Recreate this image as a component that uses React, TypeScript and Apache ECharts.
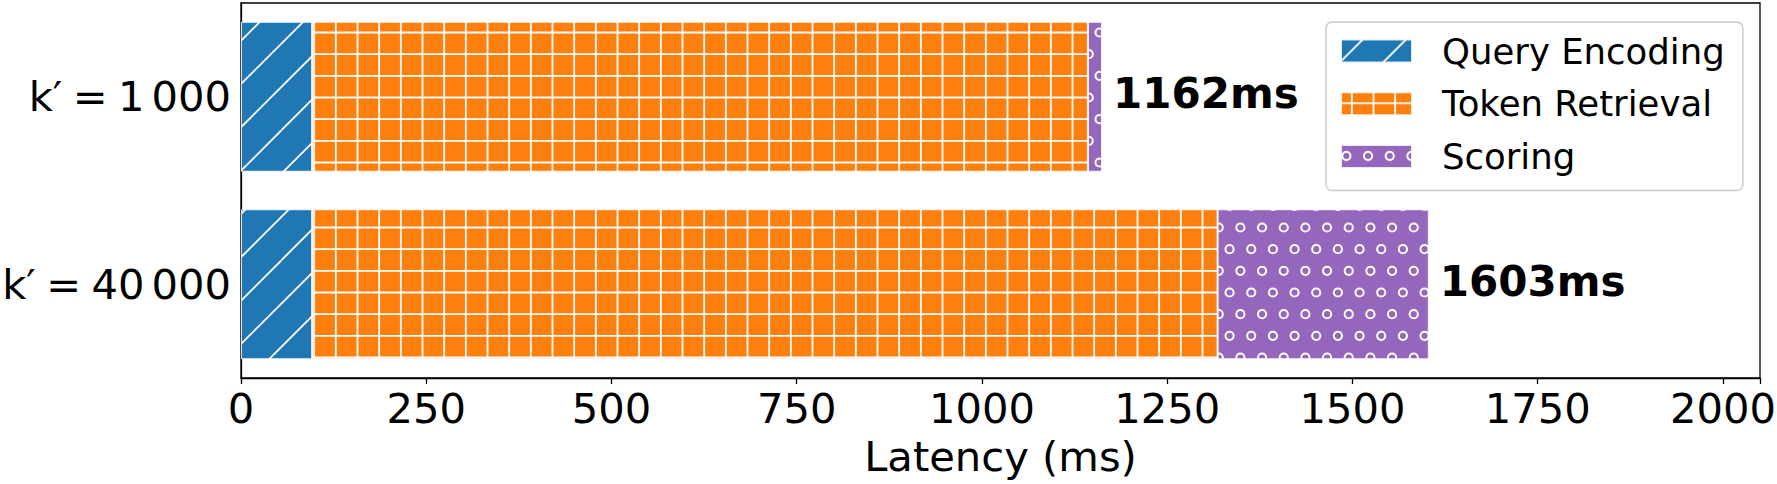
import React, { useEffect, useRef } from 'react';
import * as echarts from 'echarts';

const categories = ['k\u2032\u2005=\u20051\u2006000', 'k\u2032\u2005=\u200540\u2006000'];
const seriesNames = ['Query Encoding', 'Token Retrieval', 'Scoring'];
const queryEncoding = [96, 96];
const tokenRetrieval = [1047, 1222];
const scoring = [19, 285];
const xMin = 0;
const xMax = 2050;
const xInterval = 250;
const xAxisName = 'Latency (ms)';

const FONT = 'DejaVu Sans';

function makeTile(w: number, h: number, color: string, draw: (ctx: CanvasRenderingContext2D) => void) {
  const c = document.createElement('canvas');
  c.width = w;
  c.height = h;
  const ctx = c.getContext('2d') as CanvasRenderingContext2D;
  ctx.fillStyle = color;
  ctx.fillRect(0, 0, w, h);
  ctx.strokeStyle = '#ffffff';
  ctx.lineWidth = 1.8;
  draw(ctx);
  return { image: c.toDataURL(), repeat: 'repeat', imageWidth: w, imageHeight: h } as any;
}

function hatchPattern(color: string) {
  const T = 130;
  const d = T / 3;
  return makeTile(T, T, color, (ctx) => {
    for (let k = -2; k <= 8; k++) {
      const c = d / 2 + k * d;
      ctx.beginPath();
      ctx.moveTo(c, 0);
      ctx.lineTo(c - T, T);
      ctx.stroke();
    }
  });
}

function gridPattern(color: string) {
  const T = 65;
  const d = T / 3;
  return makeTile(T, T, color, (ctx) => {
    for (let k = 0; k < 3; k++) {
      const p = d / 2 + k * d;
      ctx.beginPath();
      ctx.moveTo(p, 0);
      ctx.lineTo(p, T);
      ctx.stroke();
      ctx.beginPath();
      ctx.moveTo(0, p);
      ctx.lineTo(T, p);
      ctx.stroke();
    }
  });
}

function circlePattern(color: string) {
  const W = 65;
  const H = 130;
  const d = W / 3;
  return makeTile(W, H, color, (ctx) => {
    ctx.lineWidth = 2;
    for (let j = 0; j < 6; j++) {
      const off = j % 2 === 0 ? 5.4 : 5.4 + d / 2;
      for (let i = 0; i < 3; i++) {
        ctx.beginPath();
        ctx.arc(off + i * d, d / 2 + j * d, 4.1, 0, Math.PI * 2);
        ctx.stroke();
      }
    }
  });
}

export default function App() {
  const ref = useRef<HTMLDivElement>(null);
  useEffect(() => {
    if (!ref.current) return;
    const chart = echarts.init(ref.current, null, { renderer: 'svg' });
    const totals = queryEncoding.map((v, i) => v + tokenRetrieval[i] + scoring[i]);
    const fills = [hatchPattern('#1f77b4'), gridPattern('#ff7f0e'), circlePattern('#9467bd')];
    const datasets = [queryEncoding, tokenRetrieval, scoring];
    const series: any[] = datasets.map((data, si) => ({
      name: seriesNames[si],
      type: 'bar',
      stack: 'total',
      barWidth: '80%',
      data,
      itemStyle: { color: fills[si], borderColor: 'rgba(255,255,255,0.85)', borderWidth: 1 },
      label:
        si === 2
          ? {
              show: true,
              position: 'right',
              distance: 11,
              offset: [0, -3],
              formatter: (p: any) => `${totals[p.dataIndex]}ms`,
              fontFamily: FONT,
              fontWeight: 'bold',
              fontSize: 42,
              color: '#000',
            }
          : { show: false },
    }));
    chart.setOption({
      animation: false,
      backgroundColor: '#ffffff',
      grid: {
        left: 241,
        top: 3,
        right: 17,
        bottom: 106,
        containLabel: false,
        outerBoundsMode: 'none',
        show: true,
        borderColor: '#000',
        borderWidth: 1.3,
        backgroundColor: 'transparent',
      },
      legend: {
        orient: 'vertical',
        left: 1326,
        top: 22,
        icon: 'rect',
        itemWidth: 71,
        itemHeight: 23,
        itemGap: 12.8,
        padding: [9, 18, 14, 14],
        backgroundColor: 'rgba(255,255,255,0.8)',
        borderColor: '#cccccc',
        borderWidth: 1.5,
        borderRadius: 6,
        data: seriesNames,
        textStyle: {
          fontFamily: FONT,
          fontSize: 35.5,
          color: '#000',
          lineHeight: 40,
          padding: [0, 0, 0, 25],
        },
      },
      xAxis: {
        type: 'value',
        min: xMin,
        max: xMax,
        interval: xInterval,
        name: xAxisName,
        nameLocation: 'middle',
        nameGap: 57,
        nameTextStyle: { fontFamily: FONT, fontSize: 41.67, color: '#000', lineHeight: 42 },
        axisLine: { show: true, lineStyle: { color: '#000', width: 1.3 } },
        axisTick: { show: true, length: 6, lineStyle: { color: '#000', width: 1.3 } },
        splitLine: { show: false },
        axisLabel: {
          fontFamily: FONT,
          fontSize: 41.67,
          color: '#000',
          margin: 9,
          lineHeight: 42,
          formatter: (v: number) => (v > xMax - 1 ? '' : String(v)),
        },
      },
      yAxis: {
        type: 'category',
        data: categories,
        inverse: true,
        axisLine: { show: true, lineStyle: { color: '#000', width: 1.3 } },
        axisTick: { show: false },
        splitLine: { show: false },
        axisLabel: { fontFamily: FONT, fontSize: 41.67, color: '#000', margin: 10 },
      },
      series,
    });
    return () => chart.dispose();
  }, []);
  return (
    <div
      ref={ref}
      style={{ position: 'absolute', left: 0, top: 0, width: 1777, height: 484, background: '#fff' }}
    />
  );
}
